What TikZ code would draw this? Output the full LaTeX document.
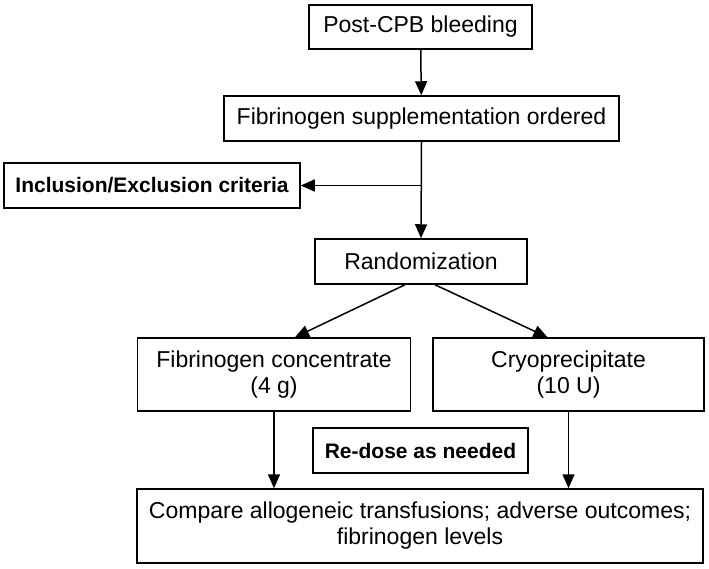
\documentclass[tikz,border=0pt]{standalone}
\usepackage{fontspec}
\setmainfont{Liberation Sans}
\usetikzlibrary{arrows.meta}

\begin{document}
\begin{tikzpicture}[
                x=1pt, y=-1pt,
                every node/.style={rectangle,draw,line width=1.5pt,inner sep=2pt,align=center,
                        font=\fontsize{23}{26}\selectfont},
                boldbox/.style={font=\fontsize{21}{24}\selectfont\bfseries},
                flow/.style={line width=1.5pt,-{Triangle[width=12pt,length=14pt]}}
            ]

            \useasboundingbox (0,0) rectangle (709,568);

            \node[minimum width=223pt,minimum height=44pt] (post) at (420.5,27) {Post-CPB bleeding};
            \node[minimum width=395pt,minimum height=45pt] (fibsup) at (421.5,118.5) {Fibrinogen supplementation ordered};
            \node[boldbox,minimum width=296pt,minimum height=45pt] (incl) at (152,185.5) {Inclusion/Exclusion criteria};
            \node[minimum width=212pt,minimum height=45pt] (rand) at (421,261.5) {Randomization};
            \node[minimum width=273pt,minimum height=73pt] (fibconc) at (274,374.5) {Fibrinogen concentrate\\(4 g)};
            \node[minimum width=271pt,minimum height=73pt] (cryo) at (568.5,374.5) {Cryoprecipitate\\(10 U)};
            \node[boldbox,minimum width=215pt,minimum height=45pt] (redose) at (420.5,450.5) {Re-dose as needed};
            \node[minimum width=566pt,minimum height=74pt] (compare) at (420,526) {Compare allogeneic transfusions; adverse outcomes;\\fibrinogen levels};

            \coordinate (split) at (fibsup.south |- incl.east);

            \draw[flow] (post) -- (fibsup);
            \draw[flow] (fibsup.south) -- (rand.north);
            \draw[flow] (split) -- (incl.east);
            \draw[flow] ([xshift=-16pt]rand.south) -- ([xshift=21pt]fibconc.north);
            \draw[flow] ([xshift=14pt]rand.south) -- ([xshift=-21pt]cryo.north);
            \draw[flow] (fibconc.south) -- (fibconc.south |- compare.north);
            \draw[flow] (cryo.south) -- (cryo.south |- compare.north);

        \end{tikzpicture}
\end{document}
